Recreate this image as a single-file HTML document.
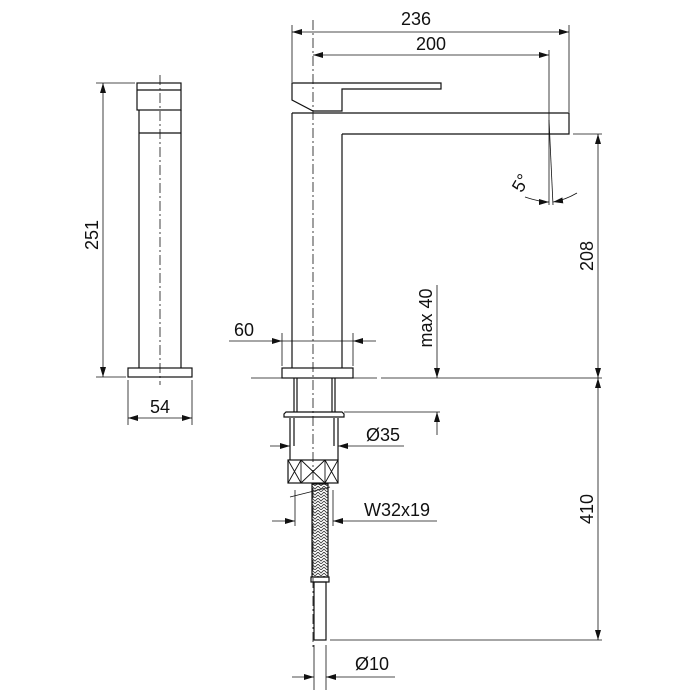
<!DOCTYPE html>
<html><head><meta charset="utf-8"><style>html,body{margin:0;padding:0;background:#fff}svg{display:block}text{font-family:"Liberation Sans",Arial,sans-serif;font-size:18px;fill:#111}</style></head>
<body>
<svg width="700" height="700" viewBox="0 0 700 700" xmlns="http://www.w3.org/2000/svg">
<defs>
<marker id="a" viewBox="0 0 10 6" refX="10" refY="3" markerWidth="10" markerHeight="6" orient="auto-start-reverse" markerUnits="userSpaceOnUse"><path d="M0,0 L10,3 L0,6 z" fill="#111"/></marker>
<pattern id="br" width="6" height="6" patternUnits="userSpaceOnUse"><path d="M0,0 L3,3 L6,0 M0,3 L3,6 L6,3" stroke="#333" stroke-width="0.8" fill="none"/></pattern>
</defs>
<g stroke="#111" stroke-width="1.2" fill="none">
<rect x="137" y="83" width="44" height="27"/>
<line x1="137" y1="90" x2="181" y2="90"/>
<path d="M139,110 L139,368 M181,110 L181,368"/>
<line x1="139" y1="133" x2="181" y2="133"/>
<rect x="128" y="368" width="64" height="9"/>
<line x1="160" y1="75" x2="160" y2="385" stroke-dasharray="10,3,2,3" stroke-width="0.8"/>
<line x1="96" y1="83" x2="135" y2="83" stroke-width="0.8"/>
<line x1="96" y1="377" x2="126" y2="377" stroke-width="0.8"/>
<line x1="103" y1="83" x2="103" y2="377" stroke-width="0.8" marker-start="url(#a)" marker-end="url(#a)"/>
<line x1="128" y1="380" x2="128" y2="425" stroke-width="0.8"/>
<line x1="192" y1="380" x2="192" y2="425" stroke-width="0.8"/>
<line x1="128" y1="418" x2="192" y2="418" stroke-width="0.8" marker-start="url(#a)" marker-end="url(#a)"/>

<path d="M292,113 L292,368 M342,134 L342,368"/>
<path d="M292,83 L441,83 L441,89 L342,89 L342,111 L313,111 L292,100 Z"/>
<path d="M292,113 L569,113 L569,134 L342,134"/>
<line x1="313" y1="20" x2="313" y2="650" stroke-dasharray="10,3,2,3" stroke-width="0.8"/>
<line x1="292" y1="25" x2="292" y2="82" stroke-width="0.8"/>
<line x1="569" y1="25" x2="569" y2="112" stroke-width="0.8"/>
<line x1="292" y1="32" x2="569" y2="32" stroke-width="0.8" marker-start="url(#a)" marker-end="url(#a)"/>
<line x1="549" y1="50" x2="549" y2="205" stroke-width="0.8"/>
<line x1="313" y1="55" x2="549" y2="55" stroke-width="0.8" marker-start="url(#a)" marker-end="url(#a)"/>
<line x1="549" y1="120" x2="553" y2="205" stroke-width="0.8"/>
<path d="M525,197 Q540,202 549,202" stroke-width="0.8" marker-end="url(#a)"/>
<path d="M577,193 Q565,200 553,202" stroke-width="0.8" marker-end="url(#a)"/>
<line x1="573" y1="134" x2="602" y2="134" stroke-width="0.8"/>
<line x1="598" y1="134" x2="598" y2="378" stroke-width="0.8" marker-start="url(#a)" marker-end="url(#a)"/>
<line x1="598" y1="378" x2="598" y2="640" stroke-width="0.8" marker-start="url(#a)" marker-end="url(#a)"/>
<line x1="330" y1="640" x2="602" y2="640" stroke-width="0.8"/>
<line x1="251" y1="378" x2="377" y2="378" stroke-width="0.8"/>
<line x1="381" y1="378" x2="602" y2="378" stroke-width="0.8"/>
<rect x="282" y="368" width="71" height="10"/>
<line x1="282" y1="333" x2="282" y2="366" stroke-width="0.8"/>
<line x1="353" y1="333" x2="353" y2="366" stroke-width="0.8"/>
<line x1="229" y1="341" x2="282" y2="341" stroke-width="0.8" marker-end="url(#a)"/>
<line x1="376" y1="341" x2="353" y2="341" stroke-width="0.8" marker-end="url(#a)"/>
<line x1="282" y1="341" x2="353" y2="341" stroke-width="0.8"/>
<path d="M294,378 L294,412 M297,378 L297,412 M332,378 L332,412 M335,378 L335,412"/>
<path d="M286,412 L342,412 L344,414 L344,417 L284,417 L284,414 Z"/>
<path d="M290,418 L290,460 M338,418 L338,460 M294,418 L294,446 M334,418 L334,446"/>
<line x1="344" y1="412" x2="440" y2="412" stroke-width="0.8"/>
<line x1="437" y1="285" x2="437" y2="378" stroke-width="0.8" marker-end="url(#a)"/>
<line x1="437" y1="435" x2="437" y2="412" stroke-width="0.8" marker-end="url(#a)"/>
<line x1="270" y1="446" x2="290" y2="446" stroke-width="0.8" marker-end="url(#a)"/>
<line x1="404" y1="446" x2="338" y2="446" stroke-width="0.8" marker-end="url(#a)"/>
<rect x="288" y="460" width="50" height="23"/>
<path d="M301,460 L301,483 M325,460 L325,483 M288,460 L301,483 M301,460 L288,483 M301,460 L325,483 M325,460 L301,483 M325,460 L338,483 M338,460 L325,483" stroke-width="0.9"/>
<rect x="312" y="484" width="16" height="93" fill="url(#br)"/>
<rect x="311" y="577" width="18" height="5"/>
<rect x="314" y="582" width="12" height="58"/>
<line x1="290" y1="497" x2="330" y2="487" stroke-width="0.8"/>
<line x1="295" y1="490" x2="295" y2="526" stroke-width="0.8"/>
<line x1="333" y1="490" x2="333" y2="526" stroke-width="0.8"/>
<line x1="272" y1="521" x2="295" y2="521" stroke-width="0.8" marker-end="url(#a)"/>
<line x1="437" y1="521" x2="333" y2="521" stroke-width="0.8" marker-end="url(#a)"/>
<line x1="314" y1="645" x2="314" y2="690" stroke-width="0.8"/>
<line x1="326" y1="645" x2="326" y2="690" stroke-width="0.8"/>
<line x1="292" y1="677" x2="314" y2="677" stroke-width="0.8" marker-end="url(#a)"/>
<line x1="395" y1="677" x2="326" y2="677" stroke-width="0.8" marker-end="url(#a)"/>
</g>
<text x="416" y="25" text-anchor="middle">236</text>
<text x="431" y="50" text-anchor="middle">200</text>
<text transform="translate(526,186) rotate(-60)" text-anchor="middle">5°</text>
<text transform="translate(593,256) rotate(-90)" text-anchor="middle">208</text>
<text transform="translate(593,509) rotate(-90)" text-anchor="middle">410</text>
<text transform="translate(432,318) rotate(-90)" text-anchor="middle">max 40</text>
<text transform="translate(98,235) rotate(-90)" text-anchor="middle">251</text>
<text x="160" y="413" text-anchor="middle">54</text>
<text x="244" y="336" text-anchor="middle">60</text>
<text x="383" y="441" text-anchor="middle">Ø35</text>
<text x="397" y="516" text-anchor="middle">W32x19</text>
<text x="372" y="670" text-anchor="middle">Ø10</text>
</svg>
</body></html>
